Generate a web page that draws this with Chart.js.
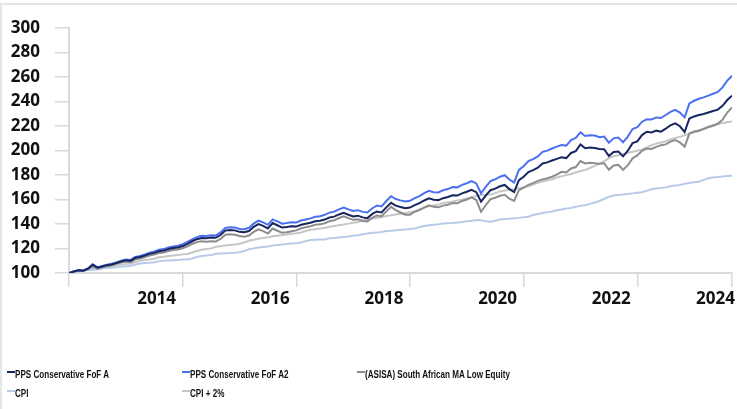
<!DOCTYPE html>
<html>
<head>
<meta charset="utf-8">
<script src="https://cdn.jsdelivr.net/npm/chart.js@4.4.1/dist/chart.umd.min.js"></script>
<style>
  html, body { margin: 0; padding: 0; background: #fff; }
  #wrap { position: relative; width: 737px; height: 409px; overflow: hidden; background: #fff; }
  #frame { position: absolute; left: 0; top: 3px; width: 800px; height: 500px;
           border-top: 2px solid #e6e6e6; border-left: 2px solid #e6e6e6; }
  #c { position: absolute; left: 0; top: 0; }
  #legend { position: absolute; left: 7px; top: 364px; display: grid;
            grid-template-columns: 175px 175px 175px; grid-auto-rows: 19px;
            font-family: "Liberation Sans", Arial, sans-serif; font-weight: 700;
            font-size: 10.5px; color: #111; }
  .item { display: flex; align-items: center; white-space: nowrap; }
  .sw { width: 8px; height: 2px; margin-top: -3px; flex: none; }
  .tx { display: inline-block; transform: scaleX(0.77); transform-origin: left center; }
</style>
</head>
<body>
<div id="wrap">
  <div id="frame"></div>
  <canvas id="c" width="737" height="409"></canvas>
  <div id="legend"></div>
</div>
<script>
// Monthly index values, rebased to 100 at the first month (Dec 2012 .. Aug 2024)
const startYear = 2012, startMonth = 12;

const ppsConservativeA = [
  100.0,101.2,102.3,101.9,103.5,106.8,104.4,105.3,106.4,107.0,108.2,109.4,110.3,
  110.0,112.4,113.0,114.2,115.6,116.4,117.8,118.3,119.6,120.4,120.9,122.0,
  123.8,125.9,127.6,128.6,128.4,128.9,128.7,131.0,134.6,135.1,134.8,133.6,
  133.2,134.3,137.6,139.9,138.5,136.4,140.8,139.0,137.1,137.6,138.2,137.9,
  139.4,140.2,141.0,142.2,142.6,143.6,145.3,146.0,147.8,149.1,147.6,146.2,
  146.8,145.4,144.8,148.0,150.2,149.5,153.6,157.3,155.0,153.9,152.9,153.4,
  155.4,157.0,159.2,161.0,159.8,159.5,161.1,162.0,163.5,163.2,165.0,166.3,
  167.9,166.0,158.2,163.1,167.6,168.9,170.8,171.9,168.5,166.1,175.8,178.6,
  182.4,184.0,186.0,189.4,190.3,191.8,193.2,194.4,193.8,198.0,199.5,205.0,
  201.8,202.4,202.0,201.2,201.0,195.5,198.8,199.2,195.2,199.8,206.0,207.4,
  212.6,215.3,214.8,216.2,215.4,217.8,220.6,222.2,219.8,215.1,226.1,227.8,
  229.0,229.8,231.0,232.2,233.4,236.5,241.2,244.8
];

const ppsConservativeA2 = [
  100.0,101.3,102.4,102.1,103.7,107.1,104.7,105.7,106.8,107.5,108.7,110.0,111.0,
  110.7,113.2,113.9,115.1,116.6,117.5,118.9,119.5,120.9,121.7,122.3,123.5,
  125.4,127.5,129.3,130.4,130.3,130.8,130.7,133.1,136.8,137.4,137.2,136.0,
  135.7,136.9,140.3,142.7,141.3,139.3,143.8,142.1,140.2,140.8,141.5,141.2,
  142.8,143.7,144.6,145.9,146.4,147.5,149.3,150.1,152.0,153.4,151.9,150.6,
  151.3,149.9,149.4,152.7,155.1,154.4,158.8,162.7,160.4,159.3,158.3,158.9,
  161.1,162.8,165.2,167.1,166.0,165.7,167.5,168.5,170.1,169.9,171.9,173.3,
  175.0,173.1,165.1,170.3,175.1,176.5,178.6,179.8,176.3,173.9,184.2,187.2,
  191.3,193.0,195.2,198.9,199.9,201.6,203.2,204.5,204.0,208.5,210.2,214.8,
  211.8,212.5,212.2,210.8,211.4,206.4,209.9,210.6,206.8,211.4,217.5,219.0,
  223.5,225.5,225.4,227.0,226.5,229.0,231.5,233.2,230.9,227.0,238.4,240.6,
  242.2,243.4,244.8,246.3,247.8,251.5,257.0,261.0
];

const asisaLowEquity = [
  100.0,101.0,102.0,101.6,103.0,105.2,103.6,104.6,105.5,106.2,107.5,108.6,109.3,
  108.8,111.2,111.9,113.0,114.3,115.0,116.3,116.8,118.0,118.8,119.2,120.2,
  121.8,123.7,125.2,126.0,125.6,126.0,125.7,127.8,131.2,131.6,131.2,130.2,
  129.7,130.6,133.6,135.7,134.2,132.2,136.3,134.5,132.8,133.3,134.0,134.8,
  136.5,137.3,138.1,139.3,139.7,140.6,142.3,143.0,144.9,146.3,144.8,143.4,
  143.9,142.5,142.0,145.0,147.0,146.3,150.3,154.0,151.4,149.4,147.6,147.6,
  150.0,151.3,153.4,155.2,154.0,153.6,155.0,155.7,157.1,156.9,158.8,160.0,
  161.8,159.7,150.0,155.3,160.3,161.4,163.0,163.8,160.6,158.9,167.6,169.6,
  171.9,173.4,175.2,176.4,177.4,178.6,180.3,182.6,182.0,185.3,186.5,191.4,
  189.4,190.0,189.6,189.2,189.6,184.2,187.8,188.4,184.2,188.0,193.6,196.0,
  199.8,201.6,201.2,203.0,204.3,205.0,207.2,208.6,206.6,203.1,213.8,215.5,
  216.3,217.6,219.0,220.2,221.8,225.2,231.0,235.2
];

const cpi = [
  100.0,100.3,101.3,102.0,102.4,102.4,102.8,103.7,104.0,104.3,104.7,105.0,105.5,
  105.8,106.9,107.8,108.2,108.4,108.8,109.7,110.0,110.2,110.4,110.6,111.0,
  111.0,111.9,113.0,113.8,114.2,114.6,115.7,115.9,116.1,116.3,116.6,117.0,
  118.0,119.4,120.1,120.9,121.3,121.7,122.5,122.8,123.2,123.6,124.0,124.3,
  124.9,126.0,126.9,127.1,127.3,127.4,128.3,128.6,129.0,129.4,129.8,130.5,
  130.9,131.7,132.2,132.8,133.1,133.5,134.3,134.5,134.9,135.4,135.6,136.0,
  136.3,137.5,138.4,139.0,139.4,139.7,140.4,140.6,140.8,141.2,141.6,142.3,
  142.7,143.3,143.0,142.2,141.9,142.6,143.6,144.1,144.3,144.6,145.0,145.5,
  146.0,147.3,148.2,149.0,149.6,150.2,151.2,151.9,152.6,153.1,154.0,154.8,
  155.3,156.4,157.6,158.8,160.4,162.3,163.2,163.7,164.0,164.5,165.0,165.5,
  166.0,167.2,168.3,169.0,169.4,169.9,170.8,171.5,171.9,172.8,173.5,174.0,
  174.5,176.0,177.3,178.0,178.4,178.8,179.1,179.3
];

const cpiPlus2 = [
  100.0,100.5,101.5,102.3,102.9,103.2,103.7,104.7,105.2,105.7,106.2,106.7,107.3,
  107.8,109.0,110.0,110.6,111.1,111.7,112.8,113.3,113.8,114.2,114.7,115.2,
  115.6,116.7,117.9,118.9,119.5,120.1,121.4,121.9,122.4,122.8,123.3,123.9,
  124.9,126.3,127.1,128.0,128.5,129.1,130.0,130.5,131.0,131.5,132.0,132.5,
  133.1,134.3,135.3,135.8,136.3,136.7,137.8,138.4,139.0,139.6,140.3,141.0,
  141.6,142.8,143.6,144.4,144.9,145.5,146.6,147.1,147.7,148.4,148.9,149.6,
  150.3,152.0,153.4,154.4,155.1,155.8,157.1,157.7,158.3,159.1,159.8,160.9,
  161.7,163.0,163.6,163.8,164.1,165.2,166.6,167.4,167.9,168.5,169.2,170.0,
  170.7,172.3,173.6,174.7,175.6,176.5,177.9,178.9,179.9,180.8,182.1,183.3,
  184.1,185.7,187.4,189.1,191.2,193.8,195.3,196.2,197.0,198.0,198.9,199.8,
  200.8,202.6,204.4,205.6,206.5,207.5,209.0,210.2,211.1,212.5,213.8,214.8,
  215.6,217.8,219.7,220.9,221.7,222.5,223.1,223.6
];

const yearLabels = ['2014', '2016', '2018', '2020', '2022', '2024'];
const seriesNames = ['PPS Conservative FoF A', 'PPS Conservative FoF A2',
  '(ASISA) South African MA Low Equity', 'CPI', 'CPI + 2%'];
const seriesColors = ['#17265f', '#4b70f2', '#8d8d8d', '#b7cbe8', '#c6c6c6'];

// Month categories: [year, month] for every point
const months = ppsConservativeA.map((_, i) => {
  const m0 = startMonth - 1 + i;
  return [startYear + Math.floor(m0 / 12), (m0 % 12) + 1];
});
const lastIdx = months.length - 1;

// Tick marks at every second year-end plus both ends of the axis
const markIdx = months.map((d, i) => i)
  .filter(i => i === 0 || i === lastIdx || (months[i][1] === 12 && months[i][0] % 2 === 0));

// Year labels sit in the middle of the months belonging to that year
const labelPos = yearLabels.map(y => {
  const idx = months.map((d, i) => d[0] === +y ? i : -1).filter(i => i >= 0);
  return (idx[0] + idx[idx.length - 1]) / 2;
});

const allSeries = [ppsConservativeA, ppsConservativeA2, asisaLowEquity, cpi, cpiPlus2];
const datasets = allSeries.map((vals, k) => ({
  label: seriesNames[k],
  data: vals.map((v, i) => ({ x: i, y: v })),
  borderColor: seriesColors[k],
  backgroundColor: seriesColors[k],
  borderWidth: 2,
  pointRadius: 0,
  tension: 0,
  fill: false,
  xAxisID: 'x',
  yAxisID: 'y'
}));

const tickFont = { family: '"Open Sans", sans-serif', size: 17, weight: 'bold' };
const axisGrey = '#d9d9d9';

const chart = new Chart(document.getElementById('c'), {
  type: 'line',
  data: { datasets },
  options: {
    responsive: false,
    animation: false,
    devicePixelRatio: 1,
    layout: { padding: { top: 28, right: 4, bottom: 92, left: 0 } },
    plugins: { legend: { display: false }, tooltip: { enabled: false } },
    scales: {
      x: {
        type: 'linear', position: 'bottom', weight: 0,
        min: 0, max: lastIdx,
        afterBuildTicks: s => { s.ticks = markIdx.map(v => ({ value: v })); },
        ticks: { display: false },
        grid: { drawOnChartArea: false, drawTicks: true, tickLength: 14, color: axisGrey, lineWidth: 1.5 },
        border: { color: axisGrey, width: 2 }
      },
      xl: {
        type: 'linear', position: 'bottom', weight: 1,
        min: 0, max: lastIdx,
        afterBuildTicks: s => { s.ticks = labelPos.map(v => ({ value: v })); },
        ticks: {
          callback: (v, i) => yearLabels[i],
          font: tickFont, color: '#111', maxRotation: 0, autoSkip: false, padding: 2
        },
        grid: { display: false, drawTicks: false },
        border: { display: false },
        afterFit: s => { s.height = 30; }
      },
      y: {
        min: 100, max: 300,
        ticks: { stepSize: 20, font: tickFont, color: '#111', padding: 15 },
        grid: { drawOnChartArea: false, drawTicks: true, tickLength: 14, color: axisGrey, lineWidth: 1.5 },
        border: { color: axisGrey, width: 2 },
        afterFit: s => { s.width = 69; }
      }
    }
  }
});

// Legend built from the chart's datasets
const legend = document.getElementById('legend');
chart.data.datasets.forEach(ds => {
  const item = document.createElement('div');
  item.className = 'item';
  const sw = document.createElement('span');
  sw.className = 'sw';
  sw.style.background = ds.borderColor;
  const tx = document.createElement('span');
  tx.className = 'tx';
  tx.textContent = ds.label;
  item.appendChild(sw);
  item.appendChild(tx);
  legend.appendChild(item);
});
</script>
</body>
</html>
